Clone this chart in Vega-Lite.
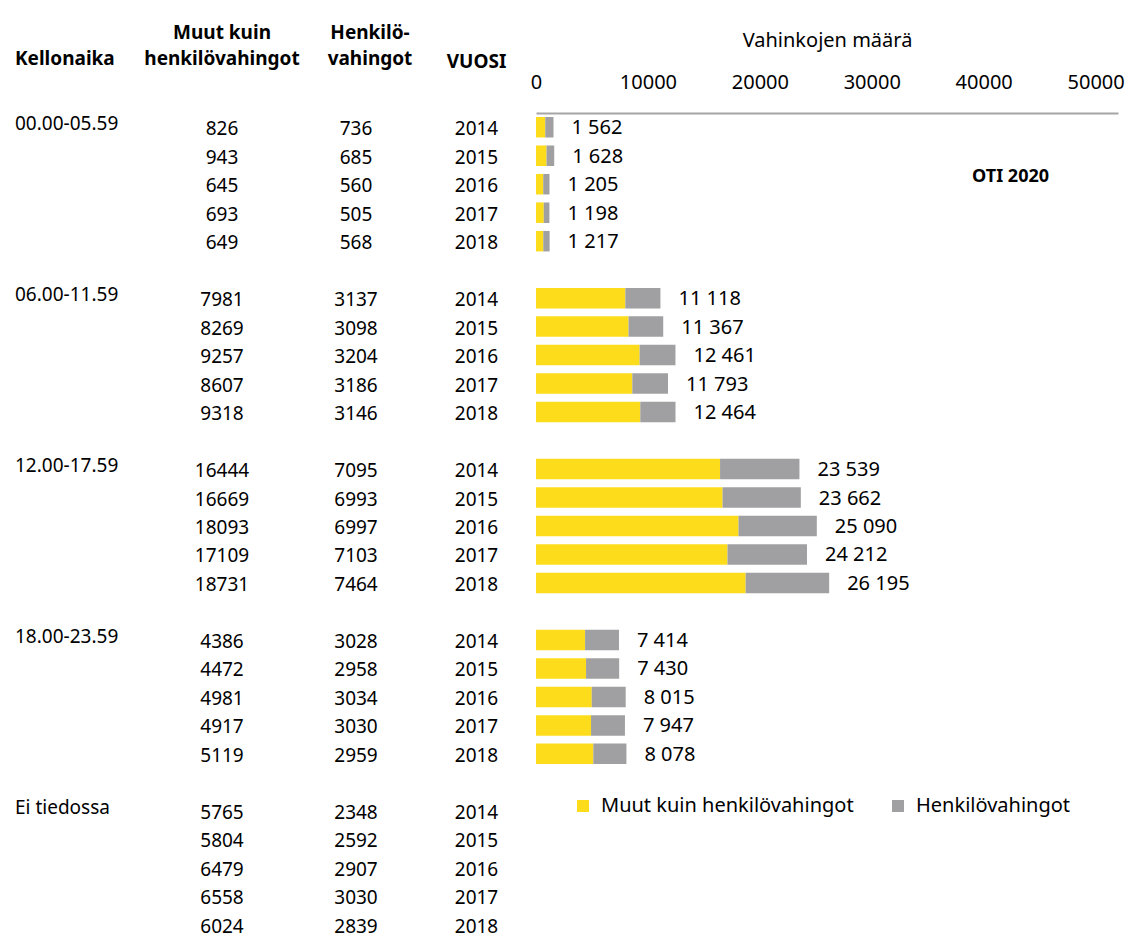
{
  "$schema": "https://vega.github.io/schema/vega-lite/v6.json",
  "padding": {"left": 15, "top": 24, "right": 0, "bottom": 0},
  "bounds": "flush",
  "spacing": 0,
  "config": {
    "view": {"stroke": null},
    "font": "Noto Sans",
    "locale": {"number": {"decimal": ",", "thousands": " ", "grouping": [3], "currency": ["", " €"]}},
    "title": {"fontSize": 19, "fontWeight": "bold", "color": "#000000", "offset": 44, "font": "Noto Sans", "lineHeight": 26},
    "text": {"fontSize": 19, "color": "#000000", "baseline": "middle"}
  },
  "datasets": {
    "tbl": [
      {"aika": "00.00-05.59", "vuosi": 2014, "Muut kuin henkilövahingot": 826, "Henkilövahingot": 736, "Yhteensä": 1562},
      {"aika": "00.00-05.59", "vuosi": 2015, "Muut kuin henkilövahingot": 943, "Henkilövahingot": 685, "Yhteensä": 1628},
      {"aika": "00.00-05.59", "vuosi": 2016, "Muut kuin henkilövahingot": 645, "Henkilövahingot": 560, "Yhteensä": 1205},
      {"aika": "00.00-05.59", "vuosi": 2017, "Muut kuin henkilövahingot": 693, "Henkilövahingot": 505, "Yhteensä": 1198},
      {"aika": "00.00-05.59", "vuosi": 2018, "Muut kuin henkilövahingot": 649, "Henkilövahingot": 568, "Yhteensä": 1217},
      {"aika": "06.00-11.59", "vuosi": 2014, "Muut kuin henkilövahingot": 7981, "Henkilövahingot": 3137, "Yhteensä": 11118},
      {"aika": "06.00-11.59", "vuosi": 2015, "Muut kuin henkilövahingot": 8269, "Henkilövahingot": 3098, "Yhteensä": 11367},
      {"aika": "06.00-11.59", "vuosi": 2016, "Muut kuin henkilövahingot": 9257, "Henkilövahingot": 3204, "Yhteensä": 12461},
      {"aika": "06.00-11.59", "vuosi": 2017, "Muut kuin henkilövahingot": 8607, "Henkilövahingot": 3186, "Yhteensä": 11793},
      {"aika": "06.00-11.59", "vuosi": 2018, "Muut kuin henkilövahingot": 9318, "Henkilövahingot": 3146, "Yhteensä": 12464},
      {"aika": "12.00-17.59", "vuosi": 2014, "Muut kuin henkilövahingot": 16444, "Henkilövahingot": 7095, "Yhteensä": 23539},
      {"aika": "12.00-17.59", "vuosi": 2015, "Muut kuin henkilövahingot": 16669, "Henkilövahingot": 6993, "Yhteensä": 23662},
      {"aika": "12.00-17.59", "vuosi": 2016, "Muut kuin henkilövahingot": 18093, "Henkilövahingot": 6997, "Yhteensä": 25090},
      {"aika": "12.00-17.59", "vuosi": 2017, "Muut kuin henkilövahingot": 17109, "Henkilövahingot": 7103, "Yhteensä": 24212},
      {"aika": "12.00-17.59", "vuosi": 2018, "Muut kuin henkilövahingot": 18731, "Henkilövahingot": 7464, "Yhteensä": 26195},
      {"aika": "18.00-23.59", "vuosi": 2014, "Muut kuin henkilövahingot": 4386, "Henkilövahingot": 3028, "Yhteensä": 7414},
      {"aika": "18.00-23.59", "vuosi": 2015, "Muut kuin henkilövahingot": 4472, "Henkilövahingot": 2958, "Yhteensä": 7430},
      {"aika": "18.00-23.59", "vuosi": 2016, "Muut kuin henkilövahingot": 4981, "Henkilövahingot": 3034, "Yhteensä": 8015},
      {"aika": "18.00-23.59", "vuosi": 2017, "Muut kuin henkilövahingot": 4917, "Henkilövahingot": 3030, "Yhteensä": 7947},
      {"aika": "18.00-23.59", "vuosi": 2018, "Muut kuin henkilövahingot": 5119, "Henkilövahingot": 2959, "Yhteensä": 8078},
      {"aika": "Ei tiedossa", "vuosi": 2014, "Muut kuin henkilövahingot": 5765, "Henkilövahingot": 2348, "Yhteensä": 8113},
      {"aika": "Ei tiedossa", "vuosi": 2015, "Muut kuin henkilövahingot": 5804, "Henkilövahingot": 2592, "Yhteensä": 8396},
      {"aika": "Ei tiedossa", "vuosi": 2016, "Muut kuin henkilövahingot": 6479, "Henkilövahingot": 2907, "Yhteensä": 9386},
      {"aika": "Ei tiedossa", "vuosi": 2017, "Muut kuin henkilövahingot": 6558, "Henkilövahingot": 3030, "Yhteensä": 9588},
      {"aika": "Ei tiedossa", "vuosi": 2018, "Muut kuin henkilövahingot": 6024, "Henkilövahingot": 2839, "Yhteensä": 8863}
    ]
  },
  "hconcat": [
    {
      "width": 134,
      "height": 826,
      "title": {"text": "Kellonaika", "anchor": "start"},
      "data": {"name": "tbl"},
      "transform": [
        {"filter": "datum.vuosi == 2014"},
        {"calculate": "datum.aika + '|' + datum.vuosi", "as": "key"}
      ],
      "mark": {"type": "text", "align": "left", "dy": -3},
      "encoding": {
        "x": {"datum": 0, "type": "quantitative", "scale": {"domain": [0, 1]}, "axis": null},
        "y": {"field": "key", "type": "nominal", "axis": null,
              "scale": {"type": "band", "paddingInner": 0.28, "paddingOuter": 0.14,
                        "domain": ["00.00-05.59|2014","00.00-05.59|2015","00.00-05.59|2016","00.00-05.59|2017","00.00-05.59|2018","g1","06.00-11.59|2014","06.00-11.59|2015","06.00-11.59|2016","06.00-11.59|2017","06.00-11.59|2018","g2","12.00-17.59|2014","12.00-17.59|2015","12.00-17.59|2016","12.00-17.59|2017","12.00-17.59|2018","g3","18.00-23.59|2014","18.00-23.59|2015","18.00-23.59|2016","18.00-23.59|2017","18.00-23.59|2018","g4","Ei tiedossa|2014","Ei tiedossa|2015","Ei tiedossa|2016","Ei tiedossa|2017","Ei tiedossa|2018"]}},
        "text": {"field": "aika", "type": "nominal"}
      }
    },
    {
      "width": 146,
      "height": 826,
      "title": {"text": ["Muut kuin", "henkilövahingot"], "anchor": "middle"},
      "data": {"name": "tbl"},
      "transform": [{"calculate": "datum.aika + '|' + datum.vuosi", "as": "key"}],
      "mark": {"type": "text", "align": "center", "dy": 2},
      "encoding": {
        "y": {"field": "key", "type": "nominal", "axis": null,
              "scale": {"type": "band", "paddingInner": 0.28, "paddingOuter": 0.14,
                        "domain": ["00.00-05.59|2014","00.00-05.59|2015","00.00-05.59|2016","00.00-05.59|2017","00.00-05.59|2018","g1","06.00-11.59|2014","06.00-11.59|2015","06.00-11.59|2016","06.00-11.59|2017","06.00-11.59|2018","g2","12.00-17.59|2014","12.00-17.59|2015","12.00-17.59|2016","12.00-17.59|2017","12.00-17.59|2018","g3","18.00-23.59|2014","18.00-23.59|2015","18.00-23.59|2016","18.00-23.59|2017","18.00-23.59|2018","g4","Ei tiedossa|2014","Ei tiedossa|2015","Ei tiedossa|2016","Ei tiedossa|2017","Ei tiedossa|2018"]}},
        "text": {"field": "Muut kuin henkilövahingot", "type": "quantitative", "format": "d"}
      }
    },
    {
      "width": 122,
      "height": 826,
      "title": {"text": ["Henkilö-", "vahingot"], "anchor": "middle", "dx": 14},
      "data": {"name": "tbl"},
      "transform": [{"calculate": "datum.aika + '|' + datum.vuosi", "as": "key"}],
      "mark": {"type": "text", "align": "center", "dy": 2},
      "encoding": {
        "y": {"field": "key", "type": "nominal", "axis": null,
              "scale": {"type": "band", "paddingInner": 0.28, "paddingOuter": 0.14,
                        "domain": ["00.00-05.59|2014","00.00-05.59|2015","00.00-05.59|2016","00.00-05.59|2017","00.00-05.59|2018","g1","06.00-11.59|2014","06.00-11.59|2015","06.00-11.59|2016","06.00-11.59|2017","06.00-11.59|2018","g2","12.00-17.59|2014","12.00-17.59|2015","12.00-17.59|2016","12.00-17.59|2017","12.00-17.59|2018","g3","18.00-23.59|2014","18.00-23.59|2015","18.00-23.59|2016","18.00-23.59|2017","18.00-23.59|2018","g4","Ei tiedossa|2014","Ei tiedossa|2015","Ei tiedossa|2016","Ei tiedossa|2017","Ei tiedossa|2018"]}},
        "text": {"field": "Henkilövahingot", "type": "quantitative", "format": "d"}
      }
    },
    {
      "width": 119,
      "height": 826,
      "title": {"text": "VUOSI", "anchor": "middle", "offset": 41},
      "data": {"name": "tbl"},
      "transform": [{"calculate": "datum.aika + '|' + datum.vuosi", "as": "key"}],
      "mark": {"type": "text", "align": "center", "dy": 2},
      "encoding": {
        "y": {"field": "key", "type": "nominal", "axis": null,
              "scale": {"type": "band", "paddingInner": 0.28, "paddingOuter": 0.14,
                        "domain": ["00.00-05.59|2014","00.00-05.59|2015","00.00-05.59|2016","00.00-05.59|2017","00.00-05.59|2018","g1","06.00-11.59|2014","06.00-11.59|2015","06.00-11.59|2016","06.00-11.59|2017","06.00-11.59|2018","g2","12.00-17.59|2014","12.00-17.59|2015","12.00-17.59|2016","12.00-17.59|2017","12.00-17.59|2018","g3","18.00-23.59|2014","18.00-23.59|2015","18.00-23.59|2016","18.00-23.59|2017","18.00-23.59|2018","g4","Ei tiedossa|2014","Ei tiedossa|2015","Ei tiedossa|2016","Ei tiedossa|2017","Ei tiedossa|2018"]}},
        "text": {"field": "vuosi", "type": "quantitative", "format": "d"}
      }
    },
    {
      "width": 582,
      "height": 826,
      "encoding": {
        "y": {"field": "key", "type": "nominal", "axis": null,
              "scale": {"type": "band", "paddingInner": 0.28, "paddingOuter": 0.14,
                        "domain": ["00.00-05.59|2014","00.00-05.59|2015","00.00-05.59|2016","00.00-05.59|2017","00.00-05.59|2018","g1","06.00-11.59|2014","06.00-11.59|2015","06.00-11.59|2016","06.00-11.59|2017","06.00-11.59|2018","g2","12.00-17.59|2014","12.00-17.59|2015","12.00-17.59|2016","12.00-17.59|2017","12.00-17.59|2018","g3","18.00-23.59|2014","18.00-23.59|2015","18.00-23.59|2016","18.00-23.59|2017","18.00-23.59|2018","g4","Ei tiedossa|2014","Ei tiedossa|2015","Ei tiedossa|2016","Ei tiedossa|2017","Ei tiedossa|2018"]}}
      },
      "layer": [
        {
          "data": {"name": "tbl"},
          "transform": [
            {"filter": "datum.aika != 'Ei tiedossa'"},
            {"calculate": "datum.aika + '|' + datum.vuosi", "as": "key"},
            {"fold": ["Muut kuin henkilövahingot", "Henkilövahingot"], "as": ["laji", "arvo"]}
          ],
          "mark": {"type": "bar"},
          "encoding": {
            "x": {"field": "arvo", "type": "quantitative", "stack": "zero",
                  "scale": {"domain": [0, 52000], "nice": false},
                  "axis": {"orient": "top", "title": "Vahinkojen määrä", "titleFontSize": 20, "titleFontWeight": "normal",
                           "titleColor": "#000000", "titlePadding": 22, "titleFont": "Noto Sans",
                           "values": [0, 10000, 20000, 30000, 40000, 50000], "format": "d",
                           "labelFontSize": 20, "labelColor": "#000000", "labelFont": "Noto Sans", "labelPadding": 21, "labelFlush": false,
                           "ticks": false, "tickSize": 0, "grid": false, "domainColor": "#A6A6A6", "domainWidth": 2}},
            "color": {"field": "laji", "type": "nominal",
                      "scale": {"domain": ["Muut kuin henkilövahingot", "Henkilövahingot"], "range": ["#FCDC1B", "#A0A0A2"]},
                      "legend": {"orient": "none", "legendX": 558, "legendY": 683, "direction": "horizontal", "title": null,
                                 "symbolType": "square", "symbolSize": 144, "symbolStrokeWidth": 0, "symbolOpacity": 1,
                                 "labelFontSize": 20, "labelFont": "Noto Sans", "labelColor": "#000000", "labelLimit": 0,
                                 "columnPadding": 34, "labelOffset": 8}},
            "order": {"field": "laji", "sort": "descending"}
          }
        },
        {
          "data": {"name": "tbl"},
          "transform": [
            {"filter": "datum.aika != 'Ei tiedossa'"},
            {"calculate": "datum.aika + '|' + datum.vuosi", "as": "key"}
          ],
          "mark": {"type": "text", "align": "left", "dx": 18, "dy": 1, "fontSize": 20},
          "encoding": {
            "x": {"field": "Yhteensä", "type": "quantitative"},
            "text": {"field": "Yhteensä", "type": "quantitative", "format": ","}
          }
        },
        {
          "data": {"values": [{"merkintä": "OTI 2020"}]},
          "mark": {"type": "text", "align": "center", "dy": -7, "fontWeight": "bold", "fontSize": 18},
          "encoding": {
            "x": {"datum": 42400, "type": "quantitative"},
            "y": {"datum": "00.00-05.59|2016", "type": "nominal"},
            "text": {"field": "merkintä", "type": "nominal"}
          }
        }
      ]
    }
  ]
}
